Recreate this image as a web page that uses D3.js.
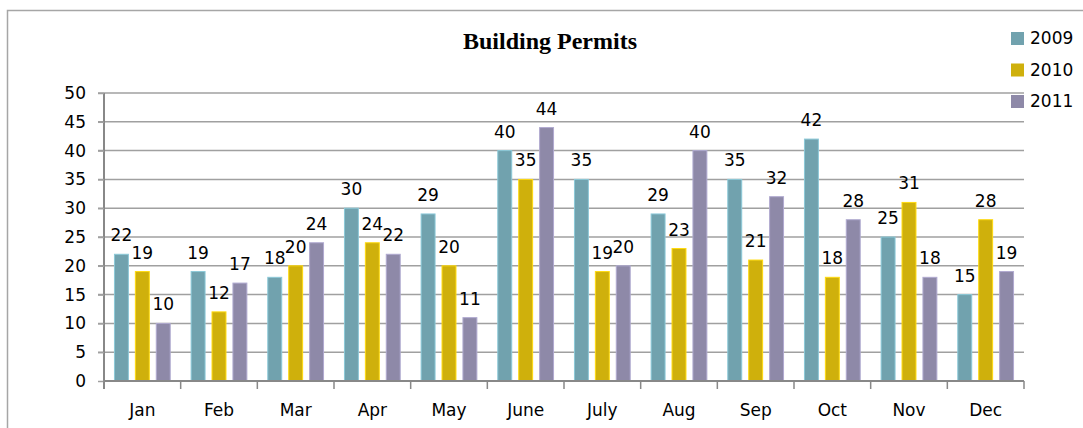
<!DOCTYPE html>
<html>
<head>
<meta charset="utf-8">
<title>Building Permits</title>
<script src="https://d3js.org/d3.v7.min.js"></script>
<style>
  body { margin: 0; background: #fff; }
  svg { display: block; }
  .tick text, .lbl, .leg { font-family: "DejaVu Sans", sans-serif; font-size: 17px; fill: #000; }
</style>
</head>
<body>
<svg id="chart" width="1083" height="428"></svg>
<script>
// chart values
var months = ["Jan", "Feb", "Mar", "Apr", "May", "June", "July", "Aug", "Sep", "Oct", "Nov", "Dec"];
var years = ["2009", "2010", "2011"];
var permits2009 = [22, 19, 18, 30, 29, 40, 35, 29, 35, 42, 25, 15];
var permits2010 = [19, 12, 20, 24, 20, 35, 19, 23, 21, 18, 31, 28];
var permits2011 = [10, 17, 24, 22, 11, 44, 20, 40, 32, 28, 18, 19];
var yTicks = [0, 5, 10, 15, 20, 25, 30, 35, 40, 45, 50];
var colors = ["#71a2ae", "#cfb00c", "#8e89a8"];

var series = [permits2009, permits2010, permits2011];

var svg = d3.select("#chart");
var plotLeft = 104, plotRight = 1024, plotTop = 93, plotBottom = 381;

// outer chart frame (runs off right/bottom)
svg.append("rect")
  .attr("x", 7.5).attr("y", 10.5)
  .attr("width", 1200).attr("height", 500)
  .attr("fill", "none").attr("stroke", "#a6a6a6").attr("stroke-width", 1.5);

var x = d3.scaleBand().domain(months).range([plotLeft, plotRight]);
var x1 = d3.scaleBand().domain(years).range([0, x.bandwidth()])
  .paddingInner(1 / 3).paddingOuter(0.5);
var y = d3.scaleLinear().domain([0, 50]).range([plotBottom, plotTop]);

// gridlines
svg.append("g").selectAll("line").data(yTicks.filter(function(d){ return d > 0; })).enter().append("line")
  .attr("x1", plotLeft - 6).attr("x2", plotRight)
  .attr("y1", function(d){ return y(d); }).attr("y2", function(d){ return y(d); })
  .attr("stroke", "#a0a0a0").attr("stroke-width", 1.5);

// bars
years.forEach(function(yr, k) {
  svg.append("g").selectAll("rect").data(series[k]).enter().append("rect")
    .attr("x", function(d, i){ return x(months[i]) + x1(yr); })
    .attr("width", x1.bandwidth())
    .attr("y", function(d){ return y(d); })
    .attr("height", function(d){ return y(0) - y(d); })
    .attr("fill", colors[k])
    .attr("stroke", d3.color(colors[k]).brighter(0.6)).attr("stroke-width", 1);
});

// y axis
var yAxis = svg.append("g")
  .attr("transform", "translate(" + plotLeft + ",0)")
  .call(d3.axisLeft(y).tickValues(yTicks).tickSize(6).tickPadding(12));
yAxis.select(".domain").attr("stroke", "#888").attr("stroke-width", 2).attr("d", "M0," + plotTop + "V" + (plotBottom + 8));
yAxis.selectAll(".tick line").attr("stroke", "#a0a0a0").attr("stroke-width", 1.5);

// x axis with ticks at band boundaries
var xAxis = svg.append("g").attr("transform", "translate(0," + plotBottom + ")")
  .call(d3.axisBottom(x).tickSize(0).tickPadding(23));
xAxis.select(".domain").attr("stroke", "#888").attr("stroke-width", 2).attr("d", "M" + plotLeft + ",0H" + plotRight);
xAxis.append("g").selectAll("line").data(months.concat(["end"])).enter().append("line")
  .attr("x1", function(d, i){ return plotLeft + i * x.step(); })
  .attr("x2", function(d, i){ return plotLeft + i * x.step(); })
  .attr("y1", 0).attr("y2", 8)
  .attr("stroke", "#888").attr("stroke-width", 1.5);

// data labels
years.forEach(function(yr, k) {
  svg.append("g").selectAll("text").data(series[k]).enter().append("text")
    .attr("class", "lbl")
    .attr("x", function(d, i){ return x(months[i]) + x1(yr) + x1.bandwidth() / 2; })
    .attr("y", function(d){ return y(d) - 13; })
    .attr("text-anchor", "middle")
    .text(function(d){ return d; });
});

// title
svg.append("text")
  .attr("x", 550).attr("y", 49)
  .attr("text-anchor", "middle")
  .style("font-family", "'Liberation Serif', serif")
  .style("font-weight", "bold").style("font-size", "24px")
  .text("Building Permits");

// legend
var leg = svg.append("g").selectAll("g").data(years).enter().append("g")
  .attr("transform", function(d, i){ return "translate(1011," + (38.5 + i * 31.5) + ")"; });
leg.append("rect").attr("x", 0).attr("y", -6.5).attr("width", 13).attr("height", 13)
  .attr("fill", function(d, i){ return colors[i]; });
leg.append("text").attr("class", "leg").attr("x", 19).attr("y", 0).attr("dy", "0.35em")
  .text(function(d){ return d; });
</script>
</body>
</html>
